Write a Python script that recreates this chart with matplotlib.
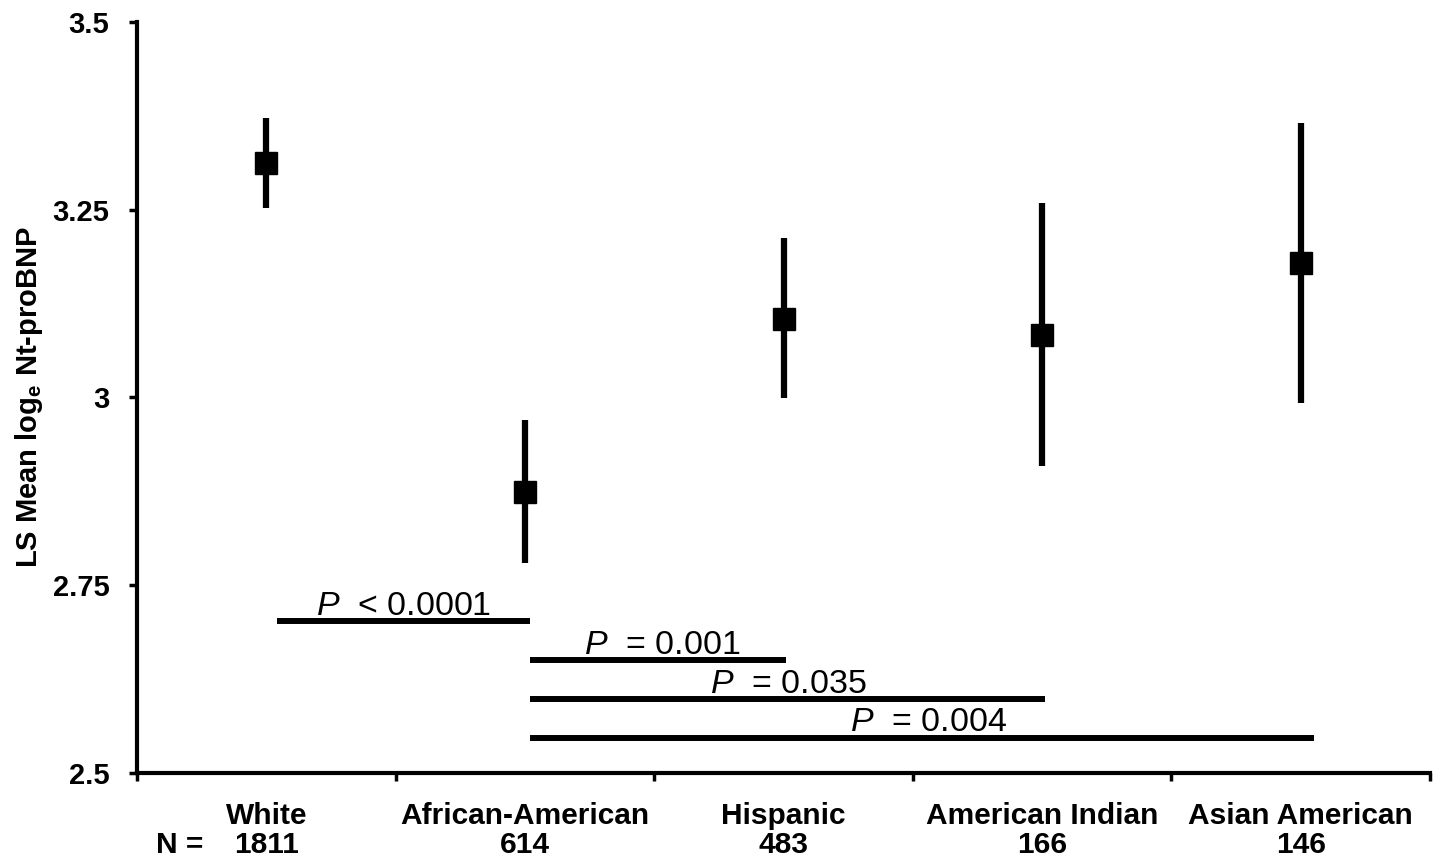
import matplotlib.pyplot as plt
import numpy as np

groups = ["White", "African-American", "Hispanic", "American Indian", "Asian American"]
counts = [1811, 614, 483, 166, 146]
ls_mean = [3.312, 2.874, 3.105, 3.083, 3.179]
ci_low = [3.252, 2.780, 2.999, 2.909, 2.993]
ci_high = [3.372, 2.970, 3.212, 3.259, 3.366]

# pairwise comparisons: (x start, x end, bar level, label)
cmp_x0 = [0.04, 1.02, 1.02, 1.02]
cmp_x1 = [1.02, 2.01, 3.01, 4.05]
cmp_y = [2.702, 2.650, 2.598, 2.547]
cmp_op = ["<", "=", "=", "="]
cmp_p = ["0.0001", "0.001", "0.035", "0.004"]
cmp_text_x = [0.53, 1.53, 2.02, 2.56]

FONT = ["Liberation Sans", "DejaVu Sans"]

plt.rcParams["mathtext.fontset"] = "custom"
plt.rcParams["mathtext.rm"] = "Liberation Sans"
plt.rcParams["mathtext.it"] = "Liberation Sans:italic"
plt.rcParams["mathtext.bf"] = "Liberation Sans:bold"

fig = plt.figure(figsize=(14.35, 8.58), dpi=100)
ax = fig.add_axes([0.0955, 0.0991, 0.901, 0.8753])

x = np.arange(len(groups))
y = np.array(ls_mean)
yerr = [y - np.array(ci_low), np.array(ci_high) - y]
ax.errorbar(x, y, yerr=yerr, fmt="s", color="black", ms=16, elinewidth=4.5, capsize=0, zorder=3)

# ── comparison bars ──────────────────────────────────────────────────────
for x0, x1, yl, op, p, tx in zip(cmp_x0, cmp_x1, cmp_y, cmp_op, cmp_p, cmp_text_x):
    ax.plot([x0, x1], [yl, yl], color="black", lw=4.3, solid_capstyle="butt")
    ax.text(tx, yl + 0.009, rf"$\mathit{{P}}$  {op} {p}", ha="center", va="baseline",
            fontsize=24.5, family=FONT)

# ── axes ─────────────────────────────────────────────────────────────────
ax.set_xlim(-0.5, 4.5)
ax.set_ylim(2.5, 3.5)
ax.set_yticks([2.5, 2.75, 3.0, 3.25, 3.5])
ax.set_yticklabels(["2.5", "2.75", "3", "3.25", "3.5"], fontsize=21, fontweight="bold", family=FONT)
ax.set_xticks(x)
ax.set_xticklabels([f"{g}\n{n}" for g, n in zip(groups, counts)], fontsize=21.5,
                   fontweight="bold", family=FONT, linespacing=1.03)
ax.set_xticks(np.arange(-0.5, 4.6, 1.0), minor=True)
ax.tick_params(axis="x", which="major", length=0, pad=21)
ax.tick_params(axis="x", which="minor", length=6, width=2.5, direction="out")
ax.tick_params(axis="y", length=6, width=2.5, direction="out", pad=14)

for side in ["top", "right"]:
    ax.spines[side].set_visible(False)
for side in ["left", "bottom"]:
    ax.spines[side].set_linewidth(3)

ax.set_ylabel(r"LS Mean log$_\mathbf{e}$ Nt-proBNP", fontsize=21, fontweight="bold", family=FONT)
ax.yaxis.set_label_coords(-0.071, 0.5)

fig.text(180 / 1435, 1 - 845 / 858, "N =", ha="center", va="center", fontsize=21.5,
         fontweight="bold", family=FONT)

fig.savefig("out.png", dpi=100, facecolor="white")
